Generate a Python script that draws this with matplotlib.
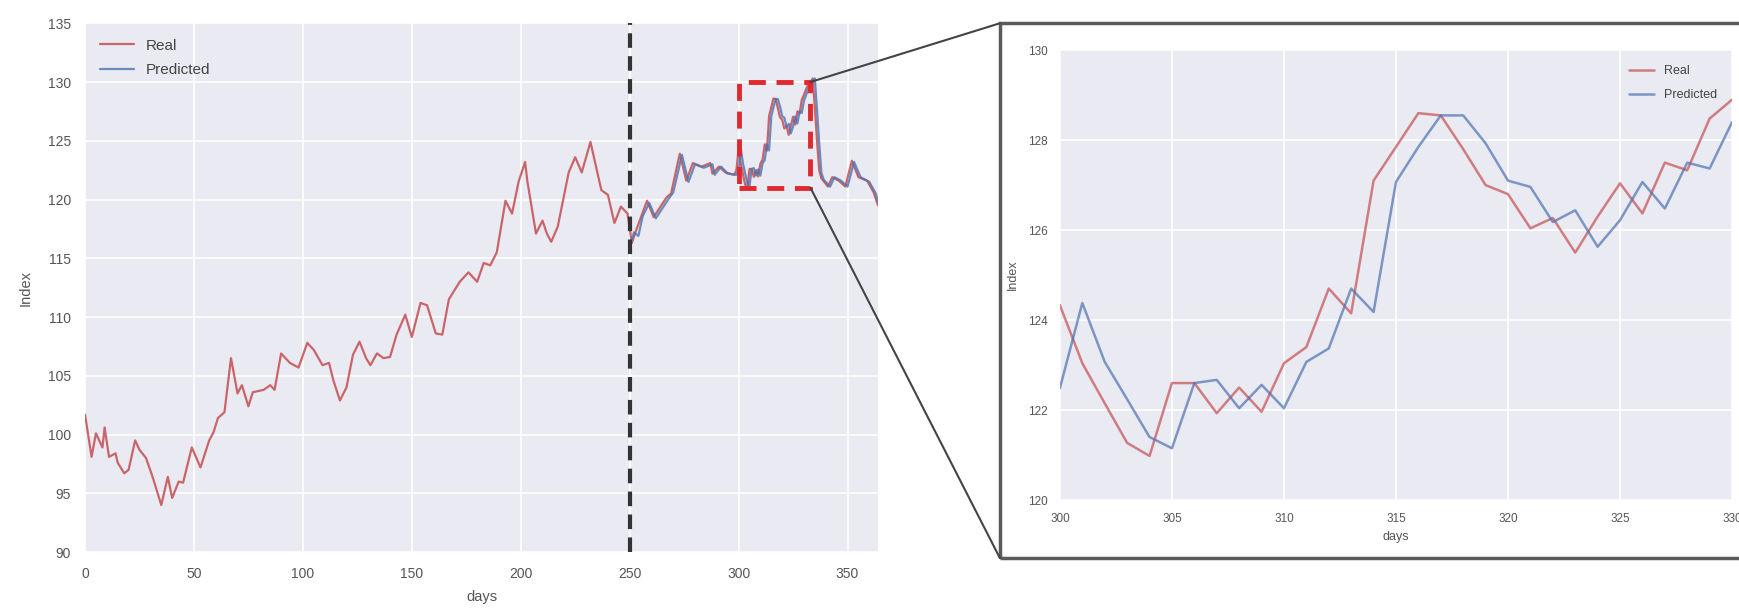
import matplotlib
matplotlib.use('Agg')
import matplotlib.pyplot as plt
import seaborn as sns
from matplotlib.patches import Rectangle, ConnectionPatch

# Real index, vertices (days, value); 300-330 daily from the zoom panel
REAL_DAYS = [0, 3, 5, 8, 9, 11, 14, 15, 18, 20, 23, 25, 28, 31, 35, 38, 40, 43, 45, 49,
             53, 57, 59, 61, 64, 67, 70, 72, 75, 77, 82, 85, 87, 90, 94, 98, 102, 105, 109, 112,
             114, 117, 120, 123, 126, 129, 131, 134, 137, 140, 143, 147, 150, 154, 157, 161, 164, 167, 172, 176,
             180, 183, 186, 189, 193, 196, 199, 202, 203, 207, 210, 212, 214, 217, 222, 225, 228, 232, 237, 240,
             243, 246, 249, 251, 253, 258, 261, 267, 269, 273, 276, 279, 283, 287, 288, 291, 294, 298, 299,
             300, 301, 302, 303, 304, 305, 306, 307, 308, 309, 310, 311, 312, 313, 314, 315,
             316, 317, 318, 319, 320, 321, 322, 323, 324, 325, 326, 327, 328, 329, 330,
             331, 332, 333, 334, 335, 336, 337, 338, 341, 343, 346, 349, 352, 355, 359, 362, 364]
REAL_VALS = [101.7, 98.1, 100.1, 98.9, 100.6, 98.1, 98.4, 97.6, 96.7, 97.0, 99.5, 98.7, 98.0, 96.4, 94.0, 96.4, 94.6, 96.0, 95.9, 98.9,
             97.2, 99.5, 100.2, 101.4, 101.9, 106.5, 103.5, 104.2, 102.4, 103.6, 103.8, 104.2, 103.8, 106.9, 106.1, 105.7, 107.8, 107.2, 105.9, 106.1,
             104.6, 102.9, 104.0, 106.8, 107.9, 106.5, 105.9, 106.9, 106.5, 106.6, 108.5, 110.2, 108.3, 111.2, 111.0, 108.6, 108.5, 111.5, 113.0, 113.8,
             113.0, 114.6, 114.4, 115.5, 119.9, 118.8, 121.5, 123.2, 121.6, 117.1, 118.2, 117.1, 116.4, 117.7, 122.3, 123.6, 122.3, 124.9, 120.8, 120.4,
             118.0, 119.4, 118.8, 116.3, 117.4, 119.9, 118.5, 120.2, 120.5, 123.9, 121.6, 123.1, 122.8, 123.1, 122.2, 122.8, 122.3, 122.1, 122.5,
             124.33, 123.04, 122.15, 121.27, 120.98, 122.6, 122.6, 121.93, 122.5, 121.96, 123.04, 123.4, 124.7, 124.15, 127.1, 127.85,
             128.6, 128.55, 127.8, 127.0, 126.8, 126.04, 126.27, 125.5, 126.3, 127.04, 126.37, 127.5, 127.33, 128.48, 128.9,
             129.4, 129.8, 130.0, 130.3, 127.8, 125.0, 122.5, 121.8, 121.1, 121.9, 121.6, 121.1, 123.3, 121.9, 121.6, 120.6, 119.5]

# Predicted index over the test period (from day 250)
PRED_DAYS = [250, 252, 254, 256, 259, 262, 268, 270, 274, 277, 280, 284, 288, 289, 292, 295, 299,
             300, 301, 302, 303, 304, 305, 306, 307, 308, 309, 310, 311, 312, 313, 314, 315,
             316, 317, 318, 319, 320, 321, 322, 323, 324, 325, 326, 327, 328, 329, 330,
             331, 332, 333, 334, 335, 336, 337, 338, 339, 342, 344, 347, 350, 353, 356, 360, 363, 364]
PRED_VALS = [116.0, 117.2, 116.9, 118.6, 119.7, 118.4, 120.1, 120.6, 123.8, 121.5, 123.0, 122.7, 123.0, 122.1, 122.8, 122.2, 122.1,
             122.49, 124.38, 123.07, 122.24, 121.4, 121.15, 122.6, 122.67, 122.04, 122.56, 122.04, 123.07, 123.37, 124.7, 124.18, 127.07,
             127.85, 128.55, 128.55, 127.93, 127.1, 126.96, 126.18, 126.44, 125.63, 126.22, 127.07, 126.48, 127.5, 127.37, 128.4,
             128.9, 129.4, 129.8, 130.1, 130.3, 127.6, 124.8, 122.3, 121.7, 121.1, 121.9, 121.6, 121.1, 123.2, 121.9, 121.5, 120.5, 119.8]

SPLIT_DAY = 250
ZOOM_X = (300, 333)
ZOOM_Y = (121, 130)

RED = '#C44E52'
BLUE = '#4C72B0'
TXT = '#555555'


def style_axes(ax, tick_size, xpad, ypad):
    ax.set_facecolor('#EAEAF2')
    ax.grid(True, color='white', linewidth=1.2)
    ax.set_axisbelow(True)
    for s in ax.spines.values():
        s.set_visible(False)
    ax.tick_params(length=0, labelsize=tick_size, colors=TXT)
    ax.tick_params(axis='x', pad=xpad)
    ax.tick_params(axis='y', pad=ypad)


def main():
    sns.set_style('darkgrid')
    plt.rcParams['font.family'] = ['Liberation Sans', 'DejaVu Sans']

    fig = plt.figure(figsize=(17.39, 6.12), dpi=100)

    # left: whole year
    ax = fig.add_axes([0.0489, 0.098, 0.456, 0.864])
    style_axes(ax, 10, 11, 10)
    ax.plot(REAL_DAYS, REAL_VALS, color=RED, lw=1.6, alpha=0.85, label='Real')
    ax.plot(PRED_DAYS, PRED_VALS, color=BLUE, lw=1.6, alpha=0.8, label='Predicted')
    ax.axvline(SPLIT_DAY, color='#333333', lw=3, linestyle=(0, (3.5, 2)))
    ax.add_patch(Rectangle((ZOOM_X[0], ZOOM_Y[0]), ZOOM_X[1] - ZOOM_X[0], ZOOM_Y[1] - ZOOM_Y[0],
                           fill=False, ec='#E0282E', lw=3.5, linestyle=(0, (3.5, 2.2)), zorder=5))
    ax.set_xlim(0, 364)
    ax.set_ylim(90, 135)
    ax.set_xticks(range(0, 351, 50))
    ax.set_yticks(range(90, 136, 5))
    ax.set_xlabel('days', fontsize=10.5, color=TXT, labelpad=6)
    ax.set_ylabel('Index', fontsize=10.5, color=TXT, labelpad=11)
    leg = ax.legend(loc='upper left', fontsize=11, frameon=False, handlelength=2.2,
                    borderaxespad=0.6, labelspacing=0.7)
    for t in leg.get_texts():
        t.set_color('#444444')

    # frame around the zoom panel
    fig.add_artist(Rectangle((0.575, 0.088), 0.45, 0.874, transform=fig.transFigure,
                             fill=False, ec='#5a5a5a', lw=2.5))

    # right: zoom on days 300-330
    ax2 = fig.add_axes([0.6095, 0.183, 0.3865, 0.735])
    style_axes(ax2, 8.5, 9, 8.5)
    z_days = [d for d in REAL_DAYS if 300 <= d <= 330]
    z_real = [v for d, v in zip(REAL_DAYS, REAL_VALS) if 300 <= d <= 330]
    z_pdays = [d for d in PRED_DAYS if 300 <= d <= 330]
    z_pred = [v for d, v in zip(PRED_DAYS, PRED_VALS) if 300 <= d <= 330]
    ax2.plot(z_days, z_real, color=RED, lw=1.8, alpha=0.7, label='Real')
    ax2.plot(z_pdays, z_pred, color=BLUE, lw=1.8, alpha=0.7, label='Predicted')
    ax2.set_xlim(300, 330)
    ax2.set_ylim(120, 130)
    ax2.set_xticks(range(300, 331, 5))
    ax2.set_yticks(range(120, 131, 2))
    ax2.set_xlabel('days', fontsize=9, color=TXT, labelpad=5)
    ax2.set_ylabel('Index', fontsize=9, color=TXT, labelpad=7)
    leg2 = ax2.legend(loc='upper right', fontsize=9, frameon=False, handlelength=2.0,
                      borderaxespad=0.8, labelspacing=0.95)
    for t in leg2.get_texts():
        t.set_color('#444444')

    # connector lines from the red box to the zoom frame
    for yA, yB in [(ZOOM_Y[1], 0.962), (ZOOM_Y[0], 0.088)]:
        con = ConnectionPatch(xyA=(ZOOM_X[1], yA), coordsA=ax.transData,
                              xyB=(0.575, yB), coordsB=fig.transFigure,
                              color='#444444', lw=1.5)
        fig.add_artist(con)

    fig.savefig('out.png', dpi=100)
    plt.close(fig)


if __name__ == '__main__':
    main()
